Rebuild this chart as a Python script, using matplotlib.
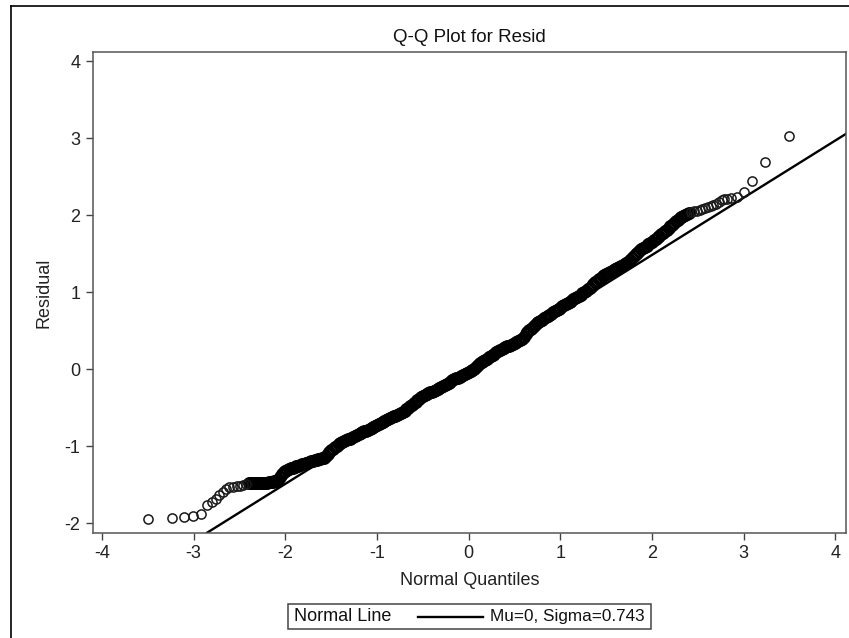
import numpy as np
import matplotlib
matplotlib.use("Agg")
import matplotlib.pyplot as plt
from matplotlib.lines import Line2D
from matplotlib.patches import Rectangle

plt.rcParams['font.family'] = ['Liberation Sans', 'DejaVu Sans']

# ---- data ----
title = "Q-Q Plot for Resid"
x_label = "Normal Quantiles"
y_label = "Residual"
mu = 0.0
sigma = 0.743
x_ticks = [-4, -3, -2, -1, 0, 1, 2, 3, 4]
y_ticks = [-2, -1, 0, 1, 2, 3, 4]

# lower tail (normal quantile, residual)
low_q = [-3.500, -3.233, -3.103, -3.004, -2.924, -2.858, -2.800, -2.760, -2.720,
         -2.685, -2.650, -2.610, -2.570, -2.530, -2.495, -2.460, -2.430]
low_r = [-1.944, -1.935, -1.918, -1.901, -1.883, -1.762, -1.725, -1.680, -1.635,
         -1.590, -1.550, -1.530, -1.522, -1.516, -1.510, -1.503, -1.490]

# dense body: residuals read at normal quantiles -2.40, -2.38, ..., 2.40
body_q = np.round(np.arange(-2.40, 2.4001, 0.02), 2)
body_r = [
    -1.480, -1.478, -1.476, -1.475, -1.474, -1.473, -1.472, -1.472, -1.471, -1.470,
    -1.469, -1.468, -1.466, -1.462, -1.455, -1.445, -1.430, -1.400, -1.360, -1.335,
    -1.315, -1.305, -1.295, -1.285, -1.275, -1.266, -1.257, -1.248, -1.240, -1.232,
    -1.225, -1.218, -1.210, -1.202, -1.194, -1.186, -1.178, -1.170, -1.163, -1.157,
    -1.152, -1.145, -1.125, -1.100, -1.075, -1.050, -1.030, -1.010, -0.990, -0.972,
    -0.958, -0.946, -0.934, -0.922, -0.910, -0.898, -0.886, -0.873, -0.860, -0.848,
    -0.836, -0.826, -0.816, -0.806, -0.796, -0.784, -0.772, -0.760, -0.748, -0.736,
    -0.723, -0.710, -0.698, -0.685, -0.672, -0.659, -0.647, -0.634, -0.622, -0.610,
    -0.600, -0.590, -0.578, -0.565, -0.550, -0.535, -0.520, -0.500, -0.478, -0.458,
    -0.440, -0.420, -0.400, -0.380, -0.362, -0.348, -0.334, -0.321, -0.310, -0.299,
    -0.288, -0.277, -0.266, -0.255, -0.243, -0.230, -0.217, -0.203, -0.189, -0.174,
    -0.158, -0.143, -0.128, -0.117, -0.106, -0.095, -0.085, -0.075, -0.064, -0.053,
    -0.040, -0.025, -0.008, 0.010, 0.030, 0.055, 0.078, 0.094, 0.110, 0.126,
    0.141, 0.156, 0.172, 0.188, 0.204, 0.220, 0.236, 0.251, 0.263, 0.275,
    0.287, 0.298, 0.309, 0.320, 0.332, 0.344, 0.356, 0.368, 0.381, 0.400,
    0.425, 0.455, 0.480, 0.505, 0.530, 0.555, 0.577, 0.597, 0.614, 0.630,
    0.646, 0.661, 0.676, 0.691, 0.706, 0.722, 0.740, 0.757, 0.772, 0.787,
    0.802, 0.817, 0.832, 0.847, 0.862, 0.878, 0.894, 0.910, 0.924, 0.940,
    0.956, 0.972, 0.988, 1.004, 1.020, 1.039, 1.060, 1.082, 1.105, 1.128,
    1.150, 1.170, 1.190, 1.207, 1.222, 1.236, 1.249, 1.261, 1.273, 1.285,
    1.298, 1.311, 1.325, 1.339, 1.353, 1.368, 1.383, 1.400, 1.420, 1.444,
    1.468, 1.492, 1.516, 1.538, 1.557, 1.575, 1.592, 1.608, 1.625, 1.642,
    1.660, 1.678, 1.697, 1.716, 1.735, 1.755, 1.775, 1.795, 1.815, 1.835,
    1.855, 1.878, 1.900, 1.920, 1.940, 1.960, 1.978, 1.995, 2.010, 2.022,
    2.032,
]

# upper tail (normal quantile, residual)
high_q = [2.430, 2.460, 2.490, 2.520, 2.550, 2.580, 2.610, 2.640, 2.667, 2.700,
          2.730, 2.760, 2.790, 2.812, 2.866, 2.921, 2.998, 3.092, 3.237, 3.499]
high_r = [2.043, 2.052, 2.062, 2.072, 2.086, 2.098, 2.110, 2.122, 2.134, 2.150,
          2.175, 2.195, 2.207, 2.212, 2.229, 2.242, 2.307, 2.445, 2.688, 3.034]

legend_label = "Normal Line"
legend_desc = "Mu=0, Sigma=0.743"

# ---- figure ----
W, H = 849, 638
fig = plt.figure(figsize=(W / 100, H / 100), dpi=100)
ax = fig.add_axes([93 / W, 1 - 532.7 / H, (845.7 - 93) / W, (532.7 - 52) / H])

tail_q = np.concatenate([low_q, high_q])
tail_r = np.concatenate([low_r, high_r])

# dense overlapping points form a solid band
ax.plot(body_q, body_r, linestyle='none', marker='o', markersize=7.6,
        markerfacecolor='none', markeredgecolor='#000000', markeredgewidth=1.7,
        zorder=3)
ax.plot(tail_q, tail_r, linestyle='none', marker='o', markersize=6.6,
        markerfacecolor='none', markeredgecolor='#1a1a1a', markeredgewidth=1.1,
        zorder=3)
ax.axline((0, mu), slope=sigma, color='black', linewidth=1.7, zorder=2)

ax.set_xlim(-4.098, 4.112)
ax.set_ylim(-2.12, 4.12)
ax.set_xticks(x_ticks)
ax.set_yticks(y_ticks)
ax.set_xticklabels([str(t) for t in x_ticks])
ax.set_yticklabels([str(t) for t in y_ticks])
ax.tick_params(direction='out', length=5, width=1.0, color='#444444',
               labelsize=13, labelcolor='#222222', pad=4)
for s in ax.spines.values():
    s.set_color('#555555')
    s.set_linewidth(1.1)

ax.set_title(title, fontsize=13.5, color='#111111', pad=7)
ax.set_xlabel(x_label, fontsize=13, color='#222222', labelpad=7)
ax.set_ylabel(y_label, fontsize=13, color='#222222', labelpad=9)

# outer frame (left and top edges visible)
fig.add_artist(Line2D([10.5 / W, 10.5 / W], [0, 1 - 6 / H], transform=fig.transFigure,
                      color='black', linewidth=1.2))
fig.add_artist(Line2D([10.5 / W, 1], [1 - 6 / H, 1 - 6 / H], transform=fig.transFigure,
                      color='black', linewidth=1.2))

# legend box
lx0, lx1, ly0, ly1 = 288, 651, 604, 629
fig.add_artist(Rectangle((lx0 / W, 1 - ly1 / H), (lx1 - lx0) / W, (ly1 - ly0) / H,
                         transform=fig.transFigure, fill=False,
                         edgecolor='#444444', linewidth=1.1))
ymid = 1 - ((ly0 + ly1) / 2) / H
fig.text(294 / W, ymid, legend_label, fontsize=13, va='center', ha='left', color='#111111')
fig.add_artist(Line2D([418 / W, 483 / W], [ymid, ymid], transform=fig.transFigure,
                      color='black', linewidth=1.7))
fig.text(490 / W, ymid, legend_desc, fontsize=12.3, va='center', ha='left', color='#111111')

fig.savefig("out.png", dpi=100)
